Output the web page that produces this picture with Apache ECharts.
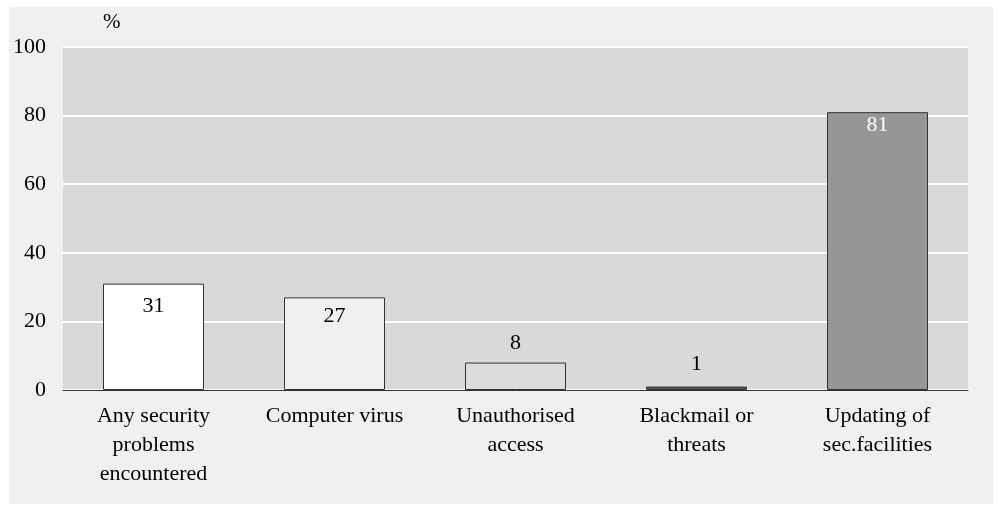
<!DOCTYPE html>
<html>
<head>
<meta charset="utf-8">
<script src="https://cdn.jsdelivr.net/npm/echarts@6/dist/echarts.min.js"></script>
<style>
  html, body { margin: 0; padding: 0; background: #fff; }
  #chart { width: 999px; height: 506px; }
</style>
</head>
<body>
<div id="chart"></div>
<script>
const categories = [
  "Any security\nproblems\nencountered",
  "Computer virus",
  "Unauthorised\naccess",
  "Blackmail or\nthreats",
  "Updating of\nsec.facilities"
];
const values = [31, 27, 8, 1, 81];
const yTicks = [0, 20, 40, 60, 80, 100];

// per-bar look
const barColors = ["#ffffff", "#f0f0f0", "#dcdcdc", "#5a5a5a", "#969696"];
const labelPos = ["insideTop", "insideTop", "top", "top", "insideTop"];
const labelDist = [12, 8, 8, 11, 2];
const labelColor = ["#000", "#000", "#000", "#000", "#fff"];

const font = "Liberation Serif";

const chart = echarts.init(document.getElementById("chart"));

const option = {
  animation: false,
  backgroundColor: "#ffffff",
  textStyle: { fontFamily: font },
  graphic: [
    {
      type: "rect",
      z: -10,
      shape: { x: 9, y: 7, width: 984, height: 497 },
      style: { fill: "#f0f0f0" }
    },
    {
      type: "text",
      left: 103,
      top: 12,
      style: { text: "%", fontSize: 21, fontFamily: font, fill: "#000" }
    }
  ],
  grid: {
    left: 63,
    right: 31,
    top: 47,
    bottom: 116,
    show: true,
    backgroundColor: "#d9d9d9",
    borderWidth: 0
  },
  xAxis: {
    type: "category",
    data: categories,
    axisLine: { lineStyle: { color: "#333", width: 1 } },
    axisTick: { show: false },
    axisLabel: {
      interval: 0,
      color: "#000",
      fontSize: 22,
      fontFamily: font,
      lineHeight: 29,
      margin: 12
    }
  },
  yAxis: {
    type: "value",
    min: yTicks[0],
    max: yTicks[yTicks.length - 1],
    interval: 20,
    axisLine: { show: false },
    axisTick: { show: false },
    splitLine: { lineStyle: { color: "#ffffff", width: 2 } },
    axisLabel: {
      color: "#000",
      fontSize: 22,
      fontFamily: font,
      margin: 17
    }
  },
  series: [
    {
      type: "bar",
      barWidth: 101,
      data: values.map((v, i) => ({
        value: v,
        itemStyle: {
          color: barColors[i],
          borderColor: "#333",
          borderWidth: 1
        },
        label: {
          show: true,
          position: labelPos[i],
          distance: labelDist[i],
          color: labelColor[i],
          fontSize: 22,
          fontFamily: font
        }
      }))
    }
  ]
};

chart.setOption(option);
</script>
</body>
</html>
